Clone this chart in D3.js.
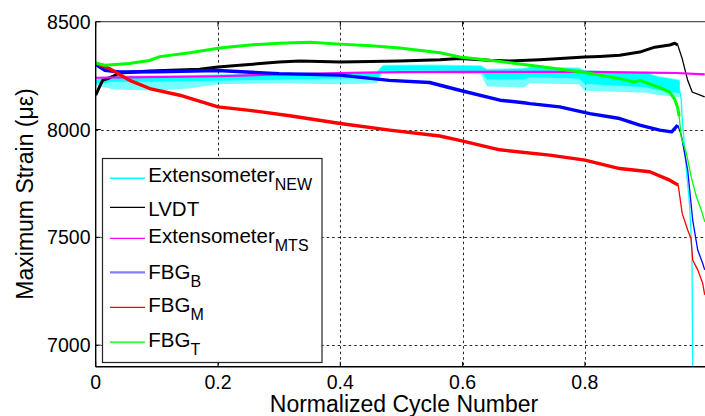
<!DOCTYPE html>
<html>
<head>
<meta charset="utf-8">
<script src="https://cdn.jsdelivr.net/npm/d3@7"></script>
<style>
  html, body { margin: 0; padding: 0; background: #fff; }
  svg { display: block; font-family: "Liberation Sans", Arial, sans-serif; }
</style>
</head>
<body>
<svg id="chart" width="705" height="416"></svg>
<script>
// ---------------- DATA ----------------
const xTicks = [0, 0.2, 0.4, 0.6, 0.8];
const xTickLabels = ["0", "0.2", "0.4", "0.6", "0.8"];
const yTicks = [7000, 7500, 8000, 8500];
const yTickLabels = ["7000", "7500", "8000", "8500"];

// Extensometer NEW (noisy band: top / middle / bottom envelopes)
const extNewX      = [0,    0.03, 0.10, 0.15, 0.20, 0.30, 0.40, 0.46, 0.47, 0.55, 0.63, 0.64, 0.70, 0.71, 0.79, 0.80, 0.90, 0.92, 0.955];
const extNewTop    = [8235, 8252, 8250, 8252, 8256, 8262, 8268, 8270, 8300, 8302, 8298, 8282, 8286, 8292, 8288, 8276, 8266, 8248, 8232];
const extNewMid    = [8225, 8236, 8236, 8238, 8240, 8245, 8250, 8250, 8286, 8288, 8285, 8246, 8246, 8256, 8250, 8226, 8210, 8196, 8182];
const extNewBottom = [8205, 8185, 8180, 8190, 8210, 8215, 8210, 8215, 8265, 8262, 8255, 8200, 8195, 8215, 8210, 8180, 8170, 8160, 8150];
const extNewTail   = [[0.955, 8182], [0.9575, 8140], [0.9591, 8050], [0.966, 7812], [0.9714, 7642], [0.9751, 7427], [0.9763, 6880]];

// LVDT
const lvdt = [[0, 8159], [0.0065, 8200], [0.0114, 8228], [0.0229, 8240], [0.0392, 8262], [0.088, 8271], [0.170, 8280],
  [0.20, 8290], [0.2355, 8298], [0.30, 8313], [0.3336, 8318], [0.40, 8313], [0.497, 8318], [0.563, 8324], [0.595, 8329],
  [0.6443, 8321], [0.677, 8318], [0.7261, 8324], [0.80, 8336], [0.8242, 8339], [0.8569, 8344], [0.8896, 8359],
  [0.9142, 8382], [0.9387, 8392], [0.9469, 8400], [0.9518, 8392], [0.9591, 8329], [0.9681, 8228], [0.9755, 8174], [0.9959, 8151]];

// Extensometer MTS
const extMts = [[0, 8240], [0.05, 8242], [0.20, 8247], [0.25, 8251], [0.30, 8256], [0.40, 8262], [0.50, 8266],
  [0.60, 8267], [0.80, 8267], [0.90, 8264], [0.95, 8262], [0.996, 8256]];

// FBG B
const fbgB = [[0, 8302], [0.015, 8274], [0.039, 8267], [0.10, 8268], [0.20, 8274], [0.30, 8259], [0.40, 8252],
  [0.48, 8228], [0.546, 8218], [0.595, 8182], [0.661, 8136], [0.70, 8124], [0.71, 8120], [0.7588, 8105],
  [0.8079, 8074], [0.857, 8051], [0.8896, 8020], [0.9223, 7997], [0.942, 7989], [0.9518, 8020], [0.9575, 7975],
  [0.9681, 7812], [0.9763, 7580], [0.9845, 7441], [0.9926, 7380], [0.9959, 7349]];

// FBG M
const fbgM = [[0, 8308], [0.0229, 8282], [0.0556, 8228], [0.0883, 8190], [0.1374, 8159], [0.20, 8105], [0.2518, 8089],
  [0.3173, 8064], [0.40, 8028], [0.4808, 7997], [0.5626, 7970], [0.5953, 7950], [0.6607, 7906], [0.7424, 7881],
  [0.80, 7858], [0.8569, 7819], [0.906, 7804], [0.9387, 7765], [0.9526, 7742], [0.9591, 7611], [0.9681, 7534],
  [0.9735, 7495], [0.9763, 7395], [0.9845, 7349], [0.9926, 7287], [0.9959, 7233]];

// FBG T
const fbgT = [[0, 8308], [0.015, 8298], [0.055, 8306], [0.088, 8320], [0.105, 8338], [0.154, 8356], [0.203, 8378],
  [0.252, 8392], [0.30, 8400], [0.35, 8405], [0.40, 8396], [0.45, 8388], [0.497, 8378], [0.563, 8356], [0.595, 8336],
  [0.655, 8318], [0.726, 8292], [0.80, 8264], [0.857, 8236], [0.88, 8220], [0.89, 8228], [0.922, 8195], [0.939, 8172],
  [0.9469, 8140], [0.9518, 8100], [0.9542, 8060], [0.9575, 7965], [0.966, 7890], [0.9738, 7780], [0.9823, 7688],
  [0.9905, 7626], [0.996, 7572]];

// x position after which each series becomes sparse (thin line)
const tailFrom = { lvdt: 0.9518, fbgB: 0.9518, fbgM: 0.9526, fbgT: 0.9542 };

const legendLabels = ["Extensometer", "LVDT", "Extensometer", "FBG", "FBG", "FBG"];
const legendSubs   = ["NEW", "", "MTS", "B", "M", "T"];

// ---------------- LAYOUT ----------------
const svg = d3.select("#chart");
svg.append("rect").attr("width", 705).attr("height", 416).attr("fill", "#fff");

const L = 95.7, R = 707.2, T = 21.7, B = 366.7;
const x = d3.scaleLinear().domain([0, 1]).range([L, R]);
const y = d3.scaleLinear().domain([6900, 8500]).range([B, T]);

svg.append("defs").append("clipPath").attr("id", "clip")
  .append("rect").attr("x", L).attr("y", T).attr("width", R - L).attr("height", B - T);

// grid
const grid = svg.append("g").attr("stroke", "#222").attr("stroke-width", 1).attr("stroke-dasharray", "2.5,3");
xTicks.filter(d => d > 0).forEach(d => {
  grid.append("line").attr("x1", Math.round(x(d)) + 0.5).attr("x2", Math.round(x(d)) + 0.5).attr("y1", T).attr("y2", B);
});
yTicks.filter(d => d < 8500).forEach(d => {
  grid.append("line").attr("y1", Math.round(y(d)) + 0.5).attr("y2", Math.round(y(d)) + 0.5).attr("x1", L).attr("x2", R);
});

const plot = svg.append("g").attr("clip-path", "url(#clip)");
const line = d3.line().x(d => x(d[0])).y(d => y(d[1]));

// Extensometer NEW band
const bandData = extNewX.map((v, i) => ({ x: v, t: extNewTop[i], m: extNewMid[i], b: extNewBottom[i] }));
plot.append("path").datum(bandData)
  .attr("d", d3.area().x(d => x(d.x)).y0(d => y(d.b)).y1(d => y(d.t)))
  .attr("fill", "#00ffff").attr("fill-opacity", 0.55);
plot.append("path").datum(bandData)
  .attr("d", d3.area().x(d => x(d.x)).y0(d => y(d.m) + 3).y1(d => y(d.t) + 1))
  .attr("fill", "#00ffff");
plot.append("path").datum(extNewTail).attr("d", line)
  .attr("fill", "none").attr("stroke", "#00ffff").attr("stroke-width", 1.3);

function drawSeries(data, color, wMain, from) {
  const main = from == null ? data : data.filter(d => d[0] <= from);
  const tail = from == null ? [] : data.filter(d => d[0] >= from);
  plot.append("path").datum(main).attr("d", line)
    .attr("fill", "none").attr("stroke", color).attr("stroke-width", wMain)
    .attr("stroke-linejoin", "round");
  if (tail.length > 1) {
    plot.append("path").datum(tail).attr("d", line)
      .attr("fill", "none").attr("stroke", color).attr("stroke-width", 1.3);
  }
}
drawSeries(lvdt, "#000000", 3, tailFrom.lvdt);
drawSeries(extMts, "#ff00ff", 2.2, null);
drawSeries(fbgB, "#0000ff", 3.4, tailFrom.fbgB);
drawSeries(fbgM, "#ff0000", 3.4, tailFrom.fbgM);
drawSeries(fbgT, "#00ff00", 3, tailFrom.fbgT);

// axes box
svg.append("line").attr("x1", L).attr("x2", R).attr("y1", T).attr("y2", T).attr("stroke", "#555").attr("stroke-width", 1.2);
svg.append("line").attr("x1", L).attr("x2", L).attr("y1", T).attr("y2", B).attr("stroke", "#000").attr("stroke-width", 1.4);
svg.append("line").attr("x1", L).attr("x2", R).attr("y1", B).attr("y2", B).attr("stroke", "#000").attr("stroke-width", 1.4);

// ticks (inside)
const tk = svg.append("g").attr("stroke", "#000").attr("stroke-width", 1);
xTicks.forEach(d => {
  tk.append("line").attr("x1", x(d)).attr("x2", x(d)).attr("y1", B).attr("y2", B - 5);
  tk.append("line").attr("x1", x(d)).attr("x2", x(d)).attr("y1", T).attr("y2", T + 5);
});
yTicks.forEach(d => {
  tk.append("line").attr("x1", L).attr("x2", L + 5).attr("y1", y(d)).attr("y2", y(d));
});

// tick labels
const tl = svg.append("g").attr("font-size", 19.5).attr("fill", "#000");
xTicks.forEach((d, i) => {
  tl.append("text").attr("x", x(d)).attr("y", 388.5).attr("text-anchor", "middle").text(xTickLabels[i]);
});
yTicks.forEach((d, i) => {
  tl.append("text").attr("x", 90.5).attr("y", y(d) + 7).attr("text-anchor", "end").text(yTickLabels[i]);
});

// axis labels
svg.append("text").attr("x", 404).attr("y", 411.5).attr("text-anchor", "middle")
  .attr("font-size", 23).text("Normalized Cycle Number");
svg.append("text").attr("transform", "translate(33,194) rotate(-90)").attr("text-anchor", "middle")
  .attr("font-size", 23).text("Maximum Strain (με)");

// legend
const lg = svg.append("g");
lg.append("rect").attr("x", 102.5).attr("y", 158.5).attr("width", 219.5).attr("height", 204)
  .attr("fill", "#fff").attr("stroke", "#222").attr("stroke-width", 1.2);
const legendColors = ["#00ffff", "#000000", "#ff00ff", "#8080ff", "#ff0000", "#40ff40"];
const legendWidths = [1.5, 1.2, 1.2, 2.2, 1.2, 2];
const rowLineY = [178.3, 207.3, 238.3, 272.3, 307.3, 342.3];
const rowTextY = [182, 215.5, 243, 279, 312, 347];
legendLabels.forEach((lab, i) => {
  lg.append("line").attr("x1", 110).attr("x2", 145).attr("y1", rowLineY[i]).attr("y2", rowLineY[i])
    .attr("stroke", legendColors[i]).attr("stroke-width", legendWidths[i]);
  const t = lg.append("text").attr("x", 148.3).attr("y", rowTextY[i]).attr("font-size", 20.5).attr("fill", "#000");
  t.append("tspan").text(lab);
  if (legendSubs[i]) {
    t.append("tspan").attr("dy", 8.3).attr("font-size", 16).text(legendSubs[i]);
  }
});
</script>
</body>
</html>
